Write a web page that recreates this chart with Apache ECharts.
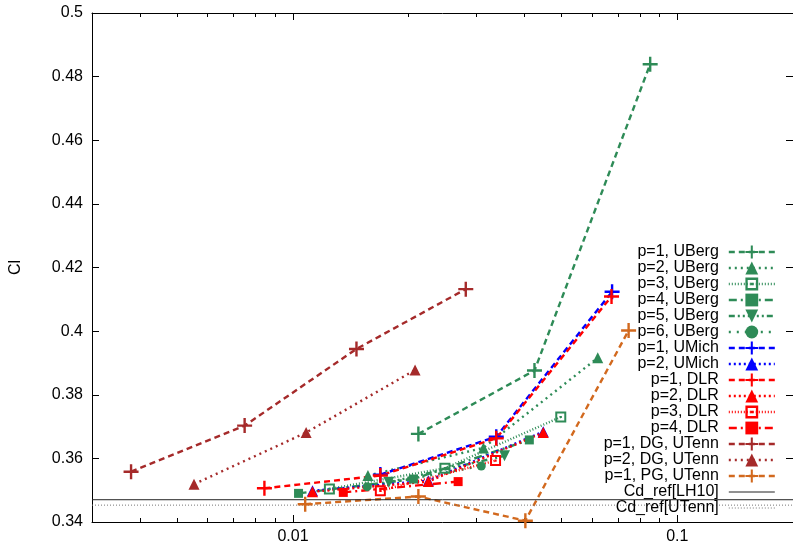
<!DOCTYPE html>
<html><head><meta charset="utf-8">
<script src="https://cdn.jsdelivr.net/npm/echarts@6/dist/echarts.min.js"></script>
<style>html,body{margin:0;padding:0;overflow:hidden;background:#fff}#c{width:793px;height:545px}</style>
</head><body><div id="c"></div>
<script>
// ---- data ----
const xMajorTicks = [0.01, 0.1];
const xMinorTicks = [0.003,0.004,0.005,0.006,0.007,0.008,0.009,0.02,0.03,0.04,0.05,0.06,0.07,0.08,0.09,0.2];
const yTickValues = [0.34,0.36,0.38,0.4,0.42,0.44,0.46,0.48,0.5];

const ubergP1 = [[0.0212,0.3677],[0.0425,0.3876],[0.0850,0.4839]];
const ubergP2 = [[0.01567,0.3546],[0.0313,0.3633],[0.0621,0.3916]];
const ubergP3 = [[0.01244,0.3504],[0.02485,0.3569],[0.04975,0.3730]];
const ubergP4 = [[0.01034,0.3490],[0.02058,0.3535],[0.04121,0.3658]];
const ubergP5 = [[0.01776,0.3525],[0.03551,0.3608]];
const ubergP6 = [[0.0156,0.3511],[0.0309,0.3576]];
const umichP1 = [[0.01688,0.3549],[0.0338,0.3668],[0.06766,0.4124]];
const umichP2 = [[0.01124,0.3498],[0.0225,0.3530],[0.04479,0.3684]];
const dlrP1 = [[0.008428,0.3506],[0.01688,0.3546],[0.0338,0.3663],[0.06743,0.4109]];
const dlrP2 = [[0.01124,0.3495],[0.0225,0.3527],[0.04479,0.3681]];
const dlrP3 = [[0.01688,0.3498],[0.03366,0.3593]];
const dlrP4 = [[0.01352,0.3493],[0.0269,0.3527]];
const dgP1 = [[0.003791,0.3558],[0.007486,0.3703],[0.01463,0.3944],[0.02816,0.4132]];
const dgP2 = [[0.005527,0.3519],[0.01082,0.3681],[0.02078,0.3878]];
const pgP1 = [[0.01076,0.3456],[0.0212,0.3480],[0.04024,0.3404],[0.0747,0.4002]];
const xRange = [0.003, 0.2];
const cdRefLH10 = 0.347;
const cdRefUTenn = 0.3453;

// ---- styles ----
const FONT = 'Liberation Sans, Arial, sans-serif';
const GREEN = '#2e8b57', BLUE = '#0000ff', RED = '#ff0000', BROWN = '#a52a2a', ORANGE = '#d2691e';
const PLUS = 'path://M4.2,0H5.8V4.2H10V5.8H5.8V10H4.2V5.8H0V4.2H4.2Z';
const OSQ = 'path://M0,0H10V10H0Z M1.8,1.8V8.2H8.2V1.8Z M4,4H6V6H4Z';
const DASH = [6,4], DOT = [2,4], FINE = [1,2], DASHDOT = [8,4,2,4], DDD = [6,3,2,3,2,3], SPARSE = [2,6];
const LW = 2.4;

function mk(name, data, color, symbol, size, dash, extra) {
  return Object.assign({
    name, type: 'line', data, color, symbol, symbolSize: size, symbolKeepAspect: true,
    showSymbol: true, showAllSymbol: true,
    lineStyle: { color, width: LW, type: dash },
    itemStyle: { color },
    emphasis: { disabled: true }, silent: true, animation: false
  }, extra || {});
}

const series = [
  mk('p=1, UBerg', ubergP1, GREEN, PLUS, 15, DASH),
  mk('p=2, UBerg', ubergP2, GREEN, 'triangle', 11, DOT),
  mk('p=3, UBerg', ubergP3, GREEN, OSQ, 11, FINE),
  mk('p=4, UBerg', ubergP4, GREEN, 'rect', 9, DASHDOT),
  mk('p=5, UBerg', ubergP5, GREEN, 'triangle', 11, DDD, { symbolRotate: 180 }),
  mk('p=6, UBerg', ubergP6, GREEN, 'circle', 9, SPARSE),
  mk('p=1, UMich', umichP1, BLUE, PLUS, 15, DASH),
  mk('p=2, UMich', umichP2, BLUE, 'triangle', 11, [2,3]),
  mk('p=1, DLR', dlrP1, RED, PLUS, 15, DASH),
  mk('p=2, DLR', dlrP2, RED, 'triangle', 11, [2,3]),
  mk('p=3, DLR', dlrP3, RED, OSQ, 11, FINE),
  mk('p=4, DLR', dlrP4, RED, 'rect', 9, DASHDOT),
  mk('p=1, DG, UTenn', dgP1, BROWN, PLUS, 15, DASH),
  mk('p=2, DG, UTenn', dgP2, BROWN, 'triangle', 11, DOT),
  mk('p=1, PG, UTenn', pgP1, ORANGE, PLUS, 15, DASH),
  mk('Cd_ref[LH10]', xRange.map(x => [x, cdRefLH10]), '#222', 'none', 0, 'solid', { lineStyle: { color: '#222', width: 1, type: 'solid' } }),
  mk('Cd_ref[UTenn]', xRange.map(x => [x, cdRefUTenn]), '#777', 'none', 0, FINE, { lineStyle: { color: '#777', width: 1, type: [1,2] } })
];

const legendData = series.map(s => {
  if (s.name.indexOf('Cd_ref') === 0) return { name: s.name, itemStyle: { opacity: 0 }, lineStyle: { width: 1 } };
  return { name: s.name, lineStyle: { width: LW } };
});

const fmtX = v => String(+(+v).toPrecision(3));
function xAx(pos, ticks, len, withLine, withLabel) {
  return {
    type: 'log', logBase: 10, min: xRange[0], max: xRange[1], position: pos,
    axisLine: { show: withLine, onZero: false, lineStyle: { color: '#000', width: 1 } },
    axisTick: { show: true, inside: true, length: len, customValues: ticks, lineStyle: { color: '#000', width: 1 } },
    axisLabel: withLabel ? { show: true, customValues: ticks, formatter: fmtX, fontSize: 16, fontFamily: FONT, color: '#000', margin: 7 } : { show: false },
    splitLine: { show: false }, minorTick: { show: false }, minorSplitLine: { show: false }
  };
}
function yAx(pos, withLabel) {
  return {
    type: 'value', min: 0.34, max: 0.5, interval: 0.02, position: pos,
    name: withLabel ? 'Cl' : '', nameLocation: 'middle', nameGap: 68,
    nameTextStyle: { fontSize: 16, fontFamily: FONT, color: '#000' },
    axisLine: { show: true, onZero: false, lineStyle: { color: '#000', width: 1 } },
    axisTick: { show: true, inside: true, length: 7, lineStyle: { color: '#000' } },
    axisLabel: withLabel ? { show: true, fontSize: 16, fontFamily: FONT, color: '#000', margin: 9,
      formatter: v => String(+(+v).toFixed(2)) } : { show: false },
    splitLine: { show: false }
  };
}

const chart = echarts.init(document.getElementById('c'), null, { renderer: 'canvas' });
chart.setOption({
  animation: false,
  backgroundColor: '#fff',
  grid: { left: 90, top: 13, right: -3, bottom: 23, containLabel: false },
  xAxis: [
    xAx('bottom', xMajorTicks, 7, true, true),
    xAx('bottom', xMinorTicks, 4, false, false),
    xAx('top', xMajorTicks, 7, true, false),
    xAx('top', xMinorTicks, 4, false, false)
  ],
  yAxis: [yAx('left', true), yAx('right', false)],
  legend: {
    data: legendData, orient: 'vertical', align: 'right', right: 17, top: 244, padding: 0,
    itemWidth: 46, itemHeight: 16, itemGap: 0, selectedMode: false,
    textStyle: { fontSize: 16, fontFamily: FONT, color: '#000', lineHeight: 16, padding: [0, 5, 0, 0] }
  },
  series: series
});
</script></body></html>
